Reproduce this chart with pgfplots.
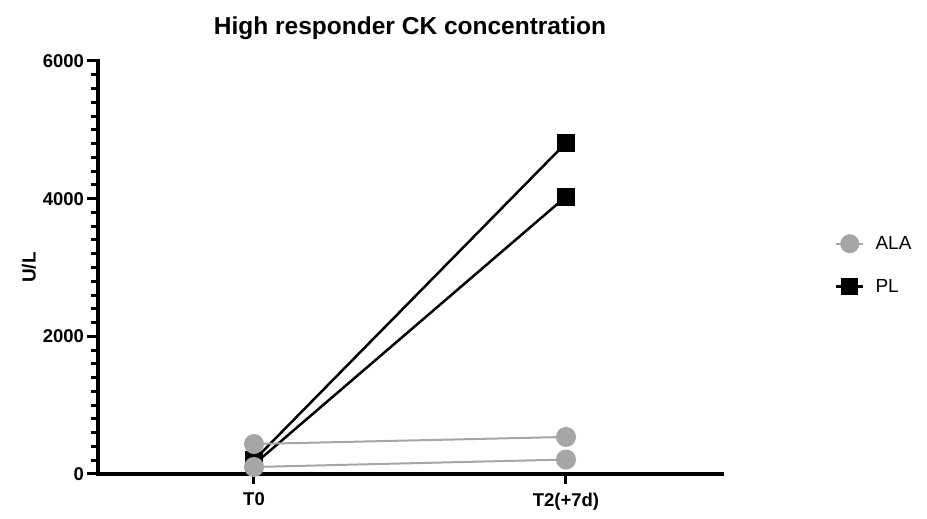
\documentclass[border=0pt]{standalone}
\usepackage{pgfplots}
\pgfplotsset{compat=1.18}
\usepackage{fontspec}
\setmainfont{Liberation Sans}
\definecolor{alagrey}{HTML}{A6A6A8}
\pgfplotsset{tick style={black, line width=3pt}}

\begin{document}
\begin{tikzpicture}
  \begin{axis}[
      scale only axis,
      width=624pt, height=413pt,
      xmin=-0.5, xmax=1.5,
      ymin=0, ymax=6000,
      clip=false,
      axis lines=left,
      axis line style={-, line width=3.5pt, line cap=rect},
      tick align=outside,
      major tick length=10.5pt,
      minor tick length=6.5pt,
      xtick={0,1},
      xticklabels={T0, T2(+7d)},
      x tick label style={yshift=-5pt},
      ytick={0,2000,4000,6000},
      minor y tick num=9,
      /pgf/number format/assume math mode=true,
      /pgf/number format/1000 sep={},
      ticklabel style={font=\fontsize{18.5}{22}\selectfont\bfseries},
      ylabel={U/L},
      ylabel style={font=\fontsize{19}{22}\selectfont\bfseries},
      title={High responder CK concentration},
      title style={font=\fontsize{24.5}{28}\selectfont\bfseries, yshift=12pt},
      legend style={at={(1.176,0.506)}, anchor=west, draw=none, fill=none,
        font=\fontsize{19}{22}\selectfont, row sep=24pt},
      legend cell align=left,
      legend image code/.code={%
        \draw[mark repeat=2, mark phase=2] plot coordinates {(0pt,0pt) (13.5pt,0pt) (27pt,0pt)};
        \path (36pt,0pt);},
    ]
    \addlegendimage{alagrey, line width=2pt, mark=*, mark size=8.5pt, mark options={fill=alagrey, draw=alagrey}}
    \addlegendentry{ALA}
    \addlegendimage{black, line width=2.5pt, mark=square*, mark size=8pt, mark options={fill=black, line width=0pt}}
    \addlegendentry{PL}

    % PL
    \addplot[forget plot, black, line width=2.5pt, mark=square*, mark size=8.5pt,
      mark options={fill=black, line width=0pt}] coordinates {(0,200) (1,4810)};
    \addplot[forget plot, black, line width=2.5pt, mark=square*, mark size=8.5pt,
      mark options={fill=black, line width=0pt}] coordinates {(0,140) (1,4030)};
    % ALA
    \addplot[forget plot, alagrey, line width=2pt, mark=*, mark size=9pt,
      mark options={fill=alagrey, draw=alagrey}] coordinates {(0,436) (1,538)};
    \addplot[forget plot, alagrey, line width=2pt, mark=*, mark size=9pt,
      mark options={fill=alagrey, draw=alagrey}] coordinates {(0,102) (1,210)};

    \path (rel axis cs:-0.15705,-0.10896) rectangle (rel axis cs:1.32853,1.14770);
  \end{axis}
\end{tikzpicture}
\end{document}
